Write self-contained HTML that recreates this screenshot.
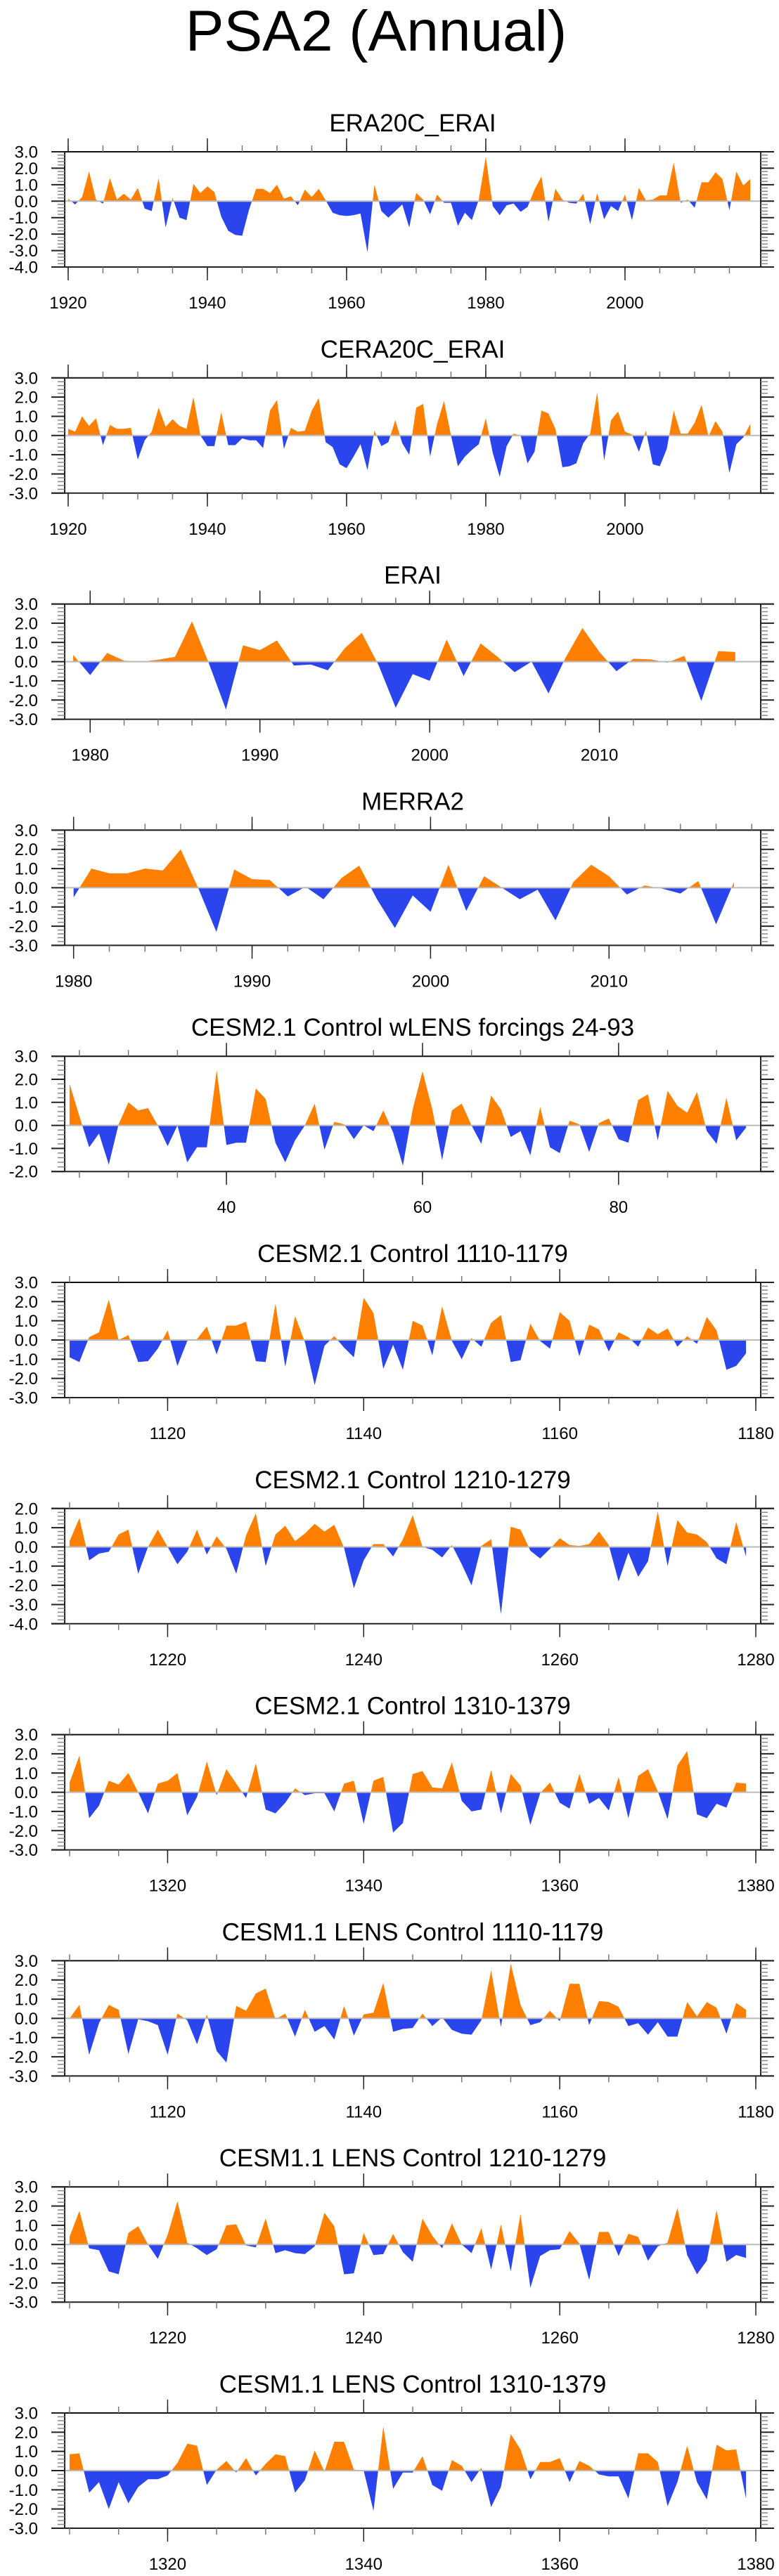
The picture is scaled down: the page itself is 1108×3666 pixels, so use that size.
<!DOCTYPE html>
<html><head><meta charset="utf-8">
<style>
html,body{margin:0;padding:0;background:#fff;}
svg{display:block;font-family:"Liberation Sans",Arial,sans-serif;}
</style></head>
<body>
<svg id="chart" width="1108" height="3666" viewBox="0 0 1108 3666" xmlns="http://www.w3.org/2000/svg">
<text x="535" y="72" font-size="82" text-anchor="middle" fill="#000">PSA2 (Annual)</text>
</svg>
<script>
const titles = ["ERA20C_ERAI","CERA20C_ERAI","ERAI","MERRA2","CESM2.1 Control wLENS forcings 24-93","CESM2.1 Control 1110-1179","CESM2.1 Control 1210-1279","CESM2.1 Control 1310-1379","CESM1.1 LENS Control 1110-1179","CESM1.1 LENS Control 1210-1279","CESM1.1 LENS Control 1310-1379"];
const startYears = [1920,1920,1979,1980,24,1110,1210,1310,1110,1210,1310];
const xMins = [1919.5,1919.5,1978.5,1979.5,23.5,1109.5,1209.5,1309.5,1109.5,1209.5,1309.5];
const xMaxs = [2019.5,2019.5,2019.5,2018.5,94.5,1180.5,1280.5,1380.5,1180.5,1280.5,1380.5];
const yMins = [-4,-3,-3,-3,-2,-3,-4,-3,-3,-3,-3];
const yMaxs = [3,3,3,3,3,3,2,3,3,3,3];
const majorTicks = [[1920,1940,1960,1980,2000],[1920,1940,1960,1980,2000],[1980,1990,2000,2010],[1980,1990,2000,2010],[40,60,80],[1120,1140,1160,1180],[1220,1240,1260,1280],[1320,1340,1360,1380],[1120,1140,1160,1180],[1220,1240,1260,1280],[1320,1340,1360,1380]];
const minorSteps = [5,5,2,2,5,5,5,5,5,5,5];

const s1 = [0.15,-0.2,0.25,1.8,0.1,-0.15,1.4,0.1,0.45,0.1,0.8,-0.45,-0.6,1.4,-1.6,0.2,-1.0,-1.15,1.05,0.5,0.9,0.55,-0.95,-1.8,-2.05,-2.1,-0.5,0.75,0.75,0.5,1.0,0.15,0.3,-0.25,0.7,0.25,0.75,0.05,-0.7,-0.85,-0.9,-0.85,-0.75,-3.1,1.0,-0.6,-1.0,-0.6,-0.2,-1.6,0.5,0.1,-0.8,0.4,-0.1,-0.1,-1.5,-0.7,-1.15,0.1,2.7,-0.3,-0.85,-0.25,-0.15,-0.65,-0.35,0.7,1.5,-1.25,0.75,0.1,-0.1,-0.15,0.45,-1.4,0.5,-1.1,-0.3,-0.6,0.4,-1.15,0.8,0.05,0.1,0.35,0.35,2.35,-0.1,0.1,-0.4,1.15,1.15,1.75,1.35,-0.55,1.8,0.95,1.35];
const s2 = [0.35,0.2,1.0,0.5,0.9,-0.5,0.55,0.35,0.35,0.4,-1.25,-0.25,0.2,1.45,0.45,0.85,0.5,0.35,2.0,0.0,-0.55,-0.55,1.2,-0.5,-0.5,-0.15,-0.25,-0.25,-0.65,1.3,1.85,-0.7,0.4,0.2,0.25,1.3,1.95,-0.35,-0.6,-1.5,-1.7,-1.1,-0.45,-1.8,0.25,-0.55,-0.35,0.8,-0.4,-1.0,1.45,1.65,-1.1,0.6,1.8,0.0,-1.6,-1.1,-0.75,-0.45,0.9,-0.9,-2.15,-0.55,0.1,0.0,-1.45,-0.85,1.3,1.15,0.35,-1.65,-1.6,-1.45,-0.4,0.1,2.25,-1.3,0.8,1.25,0.2,0.05,-0.85,0.25,-1.5,-1.6,-0.7,1.3,0.1,0.1,0.65,1.6,-0.05,0.75,0.2,-1.95,-0.45,-0.1,0.6];
const s3 = [0.35,-0.7,0.45,0.05,0.0,0.1,0.25,2.1,-0.1,-2.5,0.85,0.6,1.1,-0.2,-0.15,-0.45,0.7,1.5,-0.2,-2.4,-0.65,-1.0,1.15,-0.75,0.95,0.25,-0.55,0.0,-1.65,0.2,1.75,0.5,-0.5,0.15,0.12,-0.05,0.3,-2.05,0.55,0.5];
const s4 = [-0.5,1.0,0.75,0.75,1.0,0.9,2.0,-0.05,-2.3,0.95,0.45,0.4,-0.45,0.05,-0.6,0.5,1.15,-0.6,-2.1,-0.4,-1.25,1.2,-1.2,0.6,0.0,-0.6,-0.1,-1.7,0.3,1.2,0.6,-0.35,0.12,-0.05,-0.3,0.35,-1.9,0.3];
const s5 = [1.8,0.4,-0.95,-0.35,-1.7,0.05,1.0,0.65,0.75,0.0,-0.9,0.0,-1.6,-0.95,-0.95,2.4,-0.85,-0.75,-0.75,1.6,1.15,-0.75,-1.6,-0.65,0.0,0.95,-1.05,0.15,0.05,-0.6,0.0,-0.25,0.65,-0.3,-1.75,0.7,2.35,0.7,-1.5,0.65,0.95,0.0,-0.8,1.3,0.7,-0.5,-0.25,-1.3,0.8,-0.95,-1.2,0.2,0.05,-1.15,0.1,0.3,-0.6,-0.75,1.1,1.35,-0.65,1.5,0.85,0.55,1.45,-0.25,-0.8,1.2,-0.65,-0.1];
const s6 = [-0.9,-1.15,0.15,0.4,2.1,0.0,0.25,-1.15,-1.1,-0.45,0.5,-1.35,-0.05,0.05,0.7,-0.75,0.75,0.75,0.95,-1.1,-1.15,1.9,-1.4,1.25,-0.1,-2.35,-0.3,0.2,-0.4,-0.9,2.2,1.4,-1.5,-0.25,-1.55,1.0,0.75,-0.8,1.75,-0.05,-1.0,0.1,-0.35,0.9,1.3,-1.15,-1.05,0.85,-0.05,-0.45,1.45,1.0,-0.85,0.8,0.55,-0.6,0.4,0.15,-0.35,0.65,0.3,0.6,-0.35,0.2,-0.2,1.2,0.5,-1.55,-1.35,-0.7];
const s7 = [0.3,1.5,-0.7,-0.35,-0.25,0.65,0.9,-1.4,0.0,0.9,0.0,-0.9,-0.25,0.9,-0.4,0.55,-0.1,-1.4,0.6,1.75,-1.0,0.65,1.1,0.3,0.7,1.2,0.8,1.15,-0.05,-2.15,-0.7,0.15,0.15,-0.5,0.4,1.65,0.0,-0.15,-0.55,0.1,-0.9,-2.0,0.05,0.4,-3.5,1.05,0.9,-0.2,-0.6,-0.1,0.45,0.1,0.05,0.15,0.8,0.1,-1.8,-0.3,-1.55,-0.75,1.85,-1.0,1.4,0.75,0.65,0.25,-0.6,-0.9,1.3,-0.5];
const s8 = [0.5,1.9,-1.35,-0.7,0.6,0.4,1.0,0.0,-1.1,0.45,0.6,1.0,-1.2,-0.25,1.6,-0.15,1.2,0.45,-0.3,1.5,-0.9,-1.1,-0.55,0.2,-0.15,-0.05,-0.05,-1.0,0.45,0.6,-1.65,0.6,0.8,-2.1,-1.6,0.95,1.1,0.25,0.2,1.55,-0.45,-1.0,-0.9,1.15,-1.1,0.95,0.35,-1.7,-0.05,0.5,-0.55,-0.85,0.95,-0.6,-0.3,-0.95,0.8,-1.35,0.85,1.2,0.05,-1.4,1.4,2.15,-1.15,-1.35,-0.6,-0.8,0.5,0.45];
const s9 = [0.0,0.7,-1.9,-0.25,0.7,0.45,-1.85,-0.05,-0.15,-0.35,-1.9,0.25,-0.1,-1.35,0.2,-1.7,-2.3,0.65,0.4,1.3,1.55,-0.05,0.25,-0.95,0.45,-0.7,-0.4,-1.1,0.65,-0.9,0.2,0.3,1.85,-0.7,-0.55,-0.5,0.25,-0.4,0.05,-0.6,-0.8,-0.85,-0.1,2.5,-0.45,2.85,0.7,-0.35,-0.2,0.4,-0.15,1.8,1.8,-0.35,0.9,0.85,0.6,-0.4,-0.25,-0.85,-0.2,-0.95,-0.95,0.85,0.1,0.85,0.55,-0.8,0.8,0.45];
const s10 = [0.4,1.75,-0.2,-0.3,-1.4,-1.55,0.6,0.95,0.0,-0.75,0.5,2.25,0.1,-0.2,-0.55,-0.25,1.0,1.05,-0.05,-0.15,1.35,-0.45,-0.3,-0.45,-0.5,-0.1,1.65,0.95,-1.55,-1.5,0.6,-0.55,-0.5,0.55,-0.4,-0.9,1.35,0.45,-0.2,1.1,0.0,-0.45,0.85,-1.3,1.05,-1.4,1.6,-2.25,-0.6,-0.3,-0.25,0.7,0.05,-1.85,0.65,0.65,-0.6,0.55,0.4,-0.85,-0.1,0.1,1.9,-0.55,-1.55,-0.85,1.8,-0.9,-0.55,-0.7];
const s11 = [0.85,0.9,-1.15,-0.6,-2.0,-0.6,-1.7,-0.85,-0.45,-0.45,-0.25,0.4,1.4,1.3,-0.75,0.05,0.5,-0.1,0.65,-0.25,0.35,0.85,0.75,-1.15,-0.5,1.05,-0.05,1.5,1.5,0.05,0.0,-2.1,2.3,-0.95,-0.1,-0.1,0.75,-0.75,-1.05,0.55,0.25,-0.6,0.15,-1.9,-0.85,1.9,1.1,-0.45,0.45,0.45,0.65,-0.6,0.5,0.25,-0.2,-0.3,-0.3,-1.45,0.9,0.9,0.45,-1.85,-0.6,1.3,-0.6,-1.5,1.35,1.05,1.1,-1.45];
const series = [s1,s2,s3,s4,s5,s6,s7,s8,s9,s10,s11];

const NS = "http://www.w3.org/2000/svg";
const svg = document.getElementById("chart");
const BOX_L = 92, BOX_R = 1082, BOX_H = 164, TOP0 = 216, STEP = 321.8;

function mk(tag, attrs, parent) {
  const e = document.createElementNS(NS, tag);
  for (const k in attrs) e.setAttribute(k, attrs[k]);
  parent.appendChild(e);
  return e;
}

for (let p = 0; p < series.length; p++) {
  const top = TOP0 + p * STEP, bot = top + BOX_H;
  const x0 = xMins[p], x1 = xMaxs[p], y0 = yMins[p], y1 = yMaxs[p];
  const xs = v => BOX_L + (v - x0) / (x1 - x0) * (BOX_R - BOX_L);
  const ys = v => bot - (v - y0) / (y1 - y0) * BOX_H;
  const g = mk("g", {}, svg);
  
  

  const t = mk("text", {x: (BOX_L + BOX_R) / 2, y: top - 29, "font-size": 35, "text-anchor": "middle", fill: "#000"}, g);
  
  
  t.textContent = titles[p];

  // area fill
  const vals = series[p];
  const zy = ys(0);
  let d = "M" + xs(startYears[p]).toFixed(2) + "," + zy.toFixed(2);
  vals.forEach((v, i) => { d += " L" + xs(startYears[p] + i).toFixed(2) + "," + ys(v).toFixed(2); });
  d += " L" + xs(startYears[p] + vals.length - 1).toFixed(2) + "," + zy.toFixed(2) + " Z";
  const cidA = "ca" + p, cidB = "cb" + p;
  const defs = mk("defs", {}, g);
  const ca = mk("clipPath", {id: cidA}, defs);
  mk("rect", {x: BOX_L, y: top, width: BOX_R - BOX_L, height: zy - top}, ca);
  const cb = mk("clipPath", {id: cidB}, defs);
  mk("rect", {x: BOX_L, y: zy, width: BOX_R - BOX_L, height: bot - zy}, cb);
  const pa = mk("path", {d: d, fill: "#ff8000", "clip-path": "url(#" + cidA + ")"}, g);
  
  
  const pb = mk("path", {d: d, fill: "#2a44ee", "clip-path": "url(#" + cidB + ")"}, g);
  
  
  const zl = mk("line", {x1: BOX_L, x2: BOX_R + 19, y1: zy, y2: zy, stroke: "#bbb", "stroke-width": 2}, g);
  
  

  // frame
  mk("line", {x1: 73, x2: 1101, y1: top, y2: top, stroke: "#111", "stroke-width": 2}, g);
  mk("line", {x1: 73, x2: 1101, y1: bot, y2: bot, stroke: "#222", "stroke-width": 2}, g);
  mk("line", {x1: BOX_L, x2: BOX_L, y1: top, y2: bot, stroke: "#222", "stroke-width": 2}, g);
  mk("line", {x1: BOX_R, x2: BOX_R, y1: top, y2: bot, stroke: "#222", "stroke-width": 2}, g);

  // y ticks
  for (let v = y0; v <= y1 + 1e-6; v += 0.2) {
    const yy = ys(v);
    const major = Math.abs(v - Math.round(v)) < 1e-6;
    const len = major ? 19 : 10;
    mk("line", {x1: BOX_L - len, x2: BOX_L, y1: yy, y2: yy, stroke: major ? "#222" : "#888", "stroke-width": major ? 2 : 1.5}, g);
    mk("line", {x1: BOX_R, x2: BOX_R + len, y1: yy, y2: yy, stroke: major ? "#222" : "#888", "stroke-width": major ? 2 : 1.5}, g);
    if (major) {
      const lb = mk("text", {x: 54, y: yy + 8.5, "font-size": 24, "text-anchor": "end", fill: "#000"}, g);
      
      
      lb.textContent = Math.round(v).toFixed(1);
    }
  }
  // x minor ticks
  const ms = minorSteps[p];
  for (let v = Math.ceil(x0 / ms) * ms; v <= x1; v += ms) {
    const xx = xs(v);
    mk("line", {x1: xx, x2: xx, y1: top - 9, y2: top, stroke: "#777", "stroke-width": 1.5}, g);
    mk("line", {x1: xx, x2: xx, y1: bot, y2: bot + 9, stroke: "#777", "stroke-width": 1.5}, g);
  }
  majorTicks[p].forEach(v => {
    const xx = xs(v);
    mk("line", {x1: xx, x2: xx, y1: top - 19, y2: top, stroke: "#222", "stroke-width": 1.5}, g);
    mk("line", {x1: xx, x2: xx, y1: bot, y2: bot + 19, stroke: "#222", "stroke-width": 1.5}, g);
    const lb = mk("text", {x: xx, y: bot + 59, "font-size": 24, "text-anchor": "middle", fill: "#000"}, g);
    
    
    lb.textContent = String(v);
  });
}
</script>
</body></html>
